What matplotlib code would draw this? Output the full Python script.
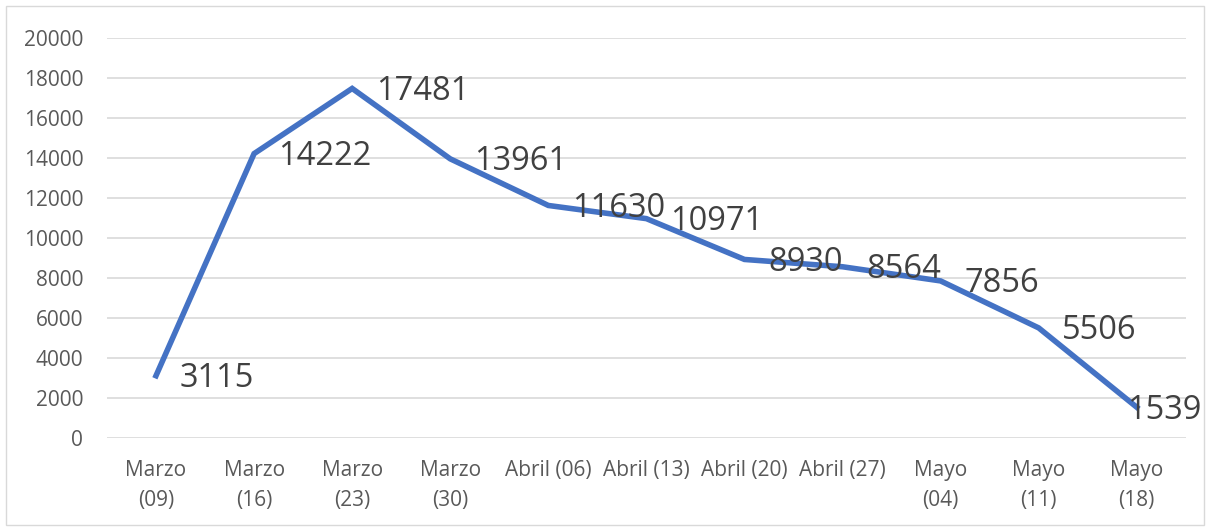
import matplotlib.pyplot as plt
from matplotlib.patches import Rectangle

plt.rcParams['font.family'] = ['Open Sans', 'DejaVu Sans']

# datos
fechas = ["Marzo\n(09)", "Marzo\n(16)", "Marzo\n(23)", "Marzo\n(30)", "Abril (06)",
          "Abril (13)", "Abril (20)", "Abril (27)", "Mayo\n(04)", "Mayo\n(11)", "Mayo\n(18)"]
casos = [3115, 14222, 17481, 13961, 11630, 10971, 8930, 8564, 7856, 5506, 1539]
y_ticks = list(range(0, 20001, 2000))

fig = plt.figure(figsize=(12.1, 5.29), dpi=100)
ax = fig.add_axes([0.0884, 0.172, 0.8916, 0.756])

x = list(range(len(casos)))
ax.plot(x, casos, color="#4472C4", linewidth=4, solid_joinstyle="miter", zorder=3)

# etiquetas de datos (a la derecha del punto)
for i, v in enumerate(casos):
    dx = 17 if i < len(casos) - 1 else -7
    ax.annotate(str(v), (i, v), xytext=(dx, -2), textcoords="offset points",
                ha="left", va="center", fontsize=23.5, color="#404040", zorder=4)

ax.set_xlim(-0.5, len(casos) - 0.5)
ax.set_ylim(0, 20000)
ax.set_yticks(y_ticks)
ax.set_xticks(x)
ax.set_xticklabels(fechas, linespacing=1.55)
ax.tick_params(axis="y", length=0, pad=17, labelsize=15, labelcolor="#595959")
ax.tick_params(axis="x", length=0, pad=16, labelsize=15, labelcolor="#595959")
ax.grid(axis="y", color="#d9d9d9", linewidth=1.2)
ax.set_axisbelow(True)
for s in ax.spines.values():
    s.set_visible(False)

# marco del gráfico
fig.patches.append(Rectangle((0.005, 0.008), 0.99, 0.98, transform=fig.transFigure,
                             fill=False, edgecolor="#d9d9d9", linewidth=1))

fig.savefig("out.png", dpi=100)
